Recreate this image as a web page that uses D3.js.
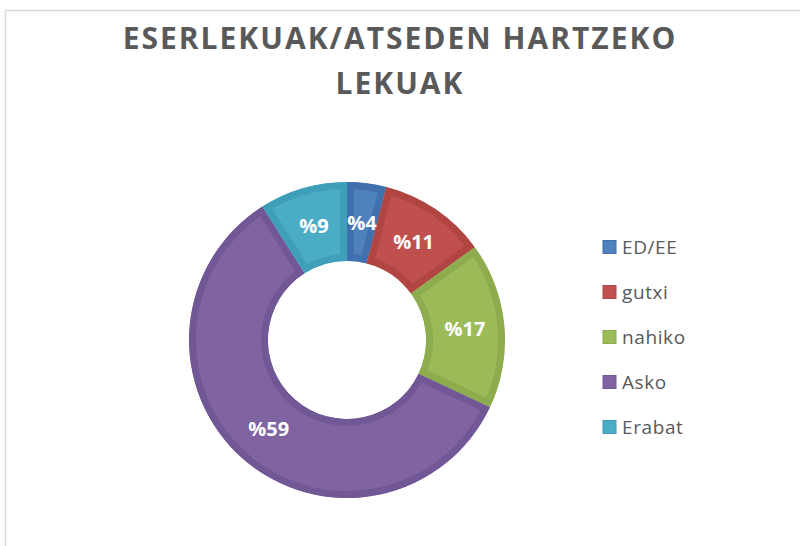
<!DOCTYPE html>
<html><head><meta charset="utf-8">
<script src="https://cdn.jsdelivr.net/npm/d3@7"></script>
<style>body{margin:0;background:#fff}svg{display:block}</style>
</head><body>
<script>
const categories = ["ED/EE", "gutxi", "nahiko", "Asko", "Erabat"];
const values = [4, 11, 17, 59, 9];
const labels = ["%4", "%11", "%17", "%59", "%9"];
const colors = ["#4F81BD", "#C0504D", "#9BBB59", "#8064A2", "#4BACC6"];
const edgeColors = ["#4170AE", "#B04542", "#8CAC4E", "#725796", "#3F9EB8"];
const titleLines = ["ESERLEKUAK/ATSEDEN HARTZEKO", "LEKUAK"];

const W = 800, H = 546;
const svg = d3.select("body").append("svg").attr("width", W).attr("height", H);

svg.append("rect").attr("x", 5.5).attr("y", 10.5).attr("width", 800).attr("height", 600)
  .attr("fill", "#fff").attr("stroke", "#d9d9d9").attr("stroke-width", 1.5);

const title = svg.append("text").attr("font-family", "'Open Sans', sans-serif")
  .attr("font-weight", 700).attr("font-size", 30).attr("fill", "#595959")
  .attr("letter-spacing", 2).attr("text-anchor", "middle");
titleLines.forEach((t, i) => {
  title.append("tspan").attr("x", 400).attr("y", 49 + i * 45).text(t);
});

const cx = 347, cy = 340, rOut = 158, rIn = 79;
const pie = d3.pie().value(d => d).sort(null);
const arcs = pie(values);
const arc = d3.arc().innerRadius(rIn).outerRadius(rOut);
const g = svg.append("g").attr("transform", `translate(${cx},${cy})`);
const defs = svg.append("defs");

arcs.forEach((a, i) => {
  defs.append("clipPath").attr("id", "clip" + i).append("path").attr("d", arc(a));
});

g.selectAll("path.slice").data(arcs).join("path").attr("class", "slice")
  .attr("d", arc).attr("fill", (d, i) => colors[i])
  .attr("stroke", (d, i) => edgeColors[i]).attr("stroke-width", 14)
  .attr("clip-path", (d, i) => `url(#clip${i})`);

const labelArc = d3.arc().innerRadius((rIn + rOut) / 2).outerRadius((rIn + rOut) / 2);
g.selectAll("text.lbl").data(arcs).join("text").attr("class", "lbl")
  .attr("transform", d => `translate(${labelArc.centroid(d)})`)
  .attr("text-anchor", "middle").attr("dy", "0.36em")
  .attr("font-family", "'Open Sans', sans-serif").attr("font-weight", 700)
  .attr("font-size", 20).attr("fill", "#fff")
  .text((d, i) => labels[i]);

const legend = svg.append("g");
const ly = d3.scalePoint().domain(categories).range([247, 427]);
categories.forEach((c, i) => {
  legend.append("rect").attr("x", 603).attr("y", ly(c) - 6.5).attr("width", 13).attr("height", 13)
    .attr("fill", colors[i]).attr("stroke", edgeColors[i]).attr("stroke-width", 1);
  legend.append("text").attr("x", 622).attr("y", ly(c)).attr("dy", "0.36em")
    .attr("font-family", "'Open Sans', sans-serif").attr("font-size", 19)
    .attr("letter-spacing", 0.6).attr("fill", "#595959").text(c);
});
</script>
</body></html>
